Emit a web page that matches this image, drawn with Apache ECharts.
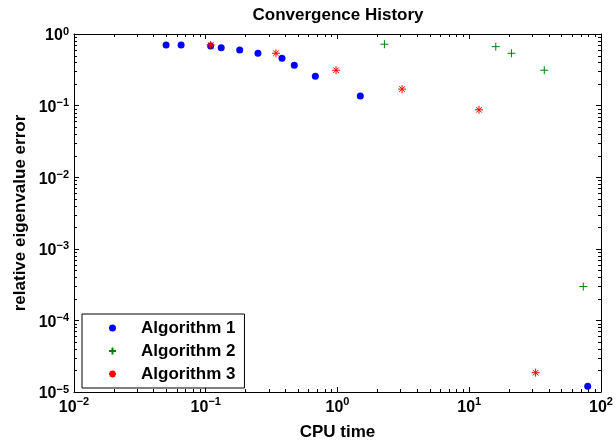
<!DOCTYPE html>
<html>
<head>
<meta charset="utf-8">
<script src="https://cdn.jsdelivr.net/npm/echarts@6/dist/echarts.min.js"></script>
<style>
html,body{margin:0;padding:0;background:#fff;}
#c{width:616px;height:446px;}
</style>
</head>
<body>
<div id="c"></div>
<script>
// ---- data ----
var seriesNames = ['Algorithm 1', 'Algorithm 2', 'Algorithm 3'];
var alg1X = [0.05, 0.065, 0.109, 0.131, 0.181, 0.249, 0.379, 0.47, 0.679, 1.49, 79.3];
var alg1Y = [0.70, 0.70, 0.68, 0.644, 0.598, 0.538, 0.459, 0.366, 0.258, 0.136, 1.2e-5];
var alg2X = [2.27, 15.9, 20.9, 37.1, 73.4];
var alg2Y = [0.72, 0.665, 0.538, 0.312, 2.97e-4];
var alg3X = [0.109, 0.341, 0.975, 3.09, 11.86, 31.9];
var alg3Y = [0.703, 0.538, 0.312, 0.170, 0.0874, 1.86e-5];
var xMin = 0.01, xMax = 100;
var yMin = 1e-5, yMax = 1;
var titleText = 'Convergence History';
var xName = 'CPU time';
var yName = 'relative eigenvalue error';

function zip(xs, ys) { return xs.map(function (x, i) { return [x, ys[i]]; }); }

var FONT = '"Liberation Sans", Arial, Helvetica, sans-serif';
var PLUS = 'path://M0,-1L0,1M-1,0L1,0';
var STAR = 'path://M0,-1L0,1M-1,0L1,0M-0.7,-0.7L0.7,0.7M-0.7,0.7L0.7,-0.7';

function expLabel(v) {
  var e = Math.round(Math.log10(v));
  var s = e < 0 ? '\u2212' + (-e) : '' + e;
  return '{b|10}{s|' + s + '}';
}
var xRich = {
  b: {fontSize: 16, fontWeight: 'bold', fontFamily: FONT, color: '#000', lineHeight: 16, padding: [8, 0, 0, 0]},
  s: {fontSize: 11, fontWeight: 'bold', fontFamily: FONT, color: '#000', lineHeight: 11, verticalAlign: 'top'}
};
var yRich = {
  b: {fontSize: 16, fontWeight: 'bold', fontFamily: FONT, color: '#000', lineHeight: 16, padding: [4, 0, 0, 0]},
  s: {fontSize: 11, fontWeight: 'bold', fontFamily: FONT, color: '#000', lineHeight: 11, verticalAlign: 'top'}
};

var axisLine = {show: true, onZero: false, lineStyle: {color: '#000', width: 1}};
var axisTick = {show: true, inside: true, length: 5, lineStyle: {color: '#000', width: 1}};

var chart = echarts.init(document.getElementById('c'), null, {renderer: 'canvas'});
var option = {
  animation: false,
  backgroundColor: '#fff',
  textStyle: {fontFamily: FONT},
  title: {
    text: titleText, left: 338, top: 7, textAlign: 'center', padding: 0,
    textStyle: {fontSize: 17, fontWeight: 'bold', color: '#000', fontFamily: FONT}
  },
  grid: {left: 74, right: 15, top: 34, bottom: 54, containLabel: false, outerBoundsMode: 'none'},
  legend: {
    data: seriesNames,
    orient: 'vertical',
    left: 82, top: 314,
    padding: [5, 9, 5, 26],
    itemGap: 5,
    itemWidth: 7, itemHeight: 7,
    backgroundColor: '#fff',
    borderColor: '#000', borderWidth: 1, borderRadius: 0,
    textStyle: {fontSize: 17, fontWeight: 'bold', color: '#000', fontFamily: FONT, lineHeight: 18, padding: [0, 0, 0, 20]}
  },
  xAxis: [{
    type: 'log', logBase: 10, min: xMin, max: xMax, position: 'bottom',
    name: xName, nameLocation: 'middle', nameGap: 32, nameMoveOverlap: false,
    nameTextStyle: {fontSize: 17, fontWeight: 'bold', color: '#000', fontFamily: FONT},
    axisLine: axisLine, axisTick: axisTick, splitLine: {show: false},
    axisLabel: {formatter: expLabel, rich: xRich, margin: 4}
  }, {
    type: 'log', logBase: 10, min: xMin, max: xMax, position: 'top',
    axisLine: axisLine, axisTick: axisTick, splitLine: {show: false},
    axisLabel: {show: false}
  }],
  yAxis: [{
    type: 'log', logBase: 10, min: yMin, max: yMax, position: 'left',
    name: yName, nameLocation: 'middle', nameGap: 45, nameMoveOverlap: false,
    nameTextStyle: {fontSize: 17, fontWeight: 'bold', color: '#000', fontFamily: FONT},
    axisLine: axisLine, axisTick: axisTick, splitLine: {show: false},
    axisLabel: {formatter: expLabel, rich: yRich, margin: 5}
  }, {
    type: 'log', logBase: 10, min: yMin, max: yMax, position: 'right',
    axisLine: axisLine, axisTick: axisTick, splitLine: {show: false},
    axisLabel: {show: false}
  }],
  series: [{
    name: seriesNames[0], type: 'scatter', data: zip(alg1X, alg1Y),
    symbol: 'circle', symbolSize: 7,
    itemStyle: {color: '#0000ff', opacity: 1}
  }, {
    name: seriesNames[1], type: 'scatter', data: zip(alg2X, alg2Y),
    symbol: PLUS, symbolSize: 8,
    itemStyle: {color: '#008000', borderColor: '#008000', borderWidth: 1, opacity: 1}
  }, {
    name: seriesNames[2], type: 'scatter', data: zip(alg3X, alg3Y),
    symbol: STAR, symbolSize: 8,
    itemStyle: {color: '#ff0000', borderColor: '#ff0000', borderWidth: 1, opacity: 1}
  }]
};
chart.setOption(option);

// minor ticks at 2..9 x 10^k, positioned through the axes' own scales
function minorValues(lo, hi) {
  var out = [];
  for (var k = Math.round(Math.log10(lo)); k < Math.round(Math.log10(hi)); k++) {
    for (var m = 2; m <= 9; m++) out.push(m * Math.pow(10, k));
  }
  return out;
}
var els = [];
var yb = chart.convertToPixel({yAxisIndex: 0}, yMin);
var yt = chart.convertToPixel({yAxisIndex: 0}, yMax);
var xl = chart.convertToPixel({xAxisIndex: 0}, xMin);
var xr = chart.convertToPixel({xAxisIndex: 0}, xMax);
var ML = 3;
var ls = {stroke: '#000', lineWidth: 1};
minorValues(xMin, xMax).forEach(function (v) {
  var px = Math.round(chart.convertToPixel({xAxisIndex: 0}, v)) + 0.5;
  els.push({type: 'line', silent: true, shape: {x1: px, y1: yb, x2: px, y2: yb - ML}, style: ls});
  els.push({type: 'line', silent: true, shape: {x1: px, y1: yt, x2: px, y2: yt + ML}, style: ls});
});
minorValues(yMin, yMax).forEach(function (v) {
  var py = Math.round(chart.convertToPixel({yAxisIndex: 0}, v)) + 0.5;
  els.push({type: 'line', silent: true, shape: {x1: xl, y1: py, x2: xl + ML, y2: py}, style: ls});
  els.push({type: 'line', silent: true, shape: {x1: xr, y1: py, x2: xr - ML, y2: py}, style: ls});
});
chart.setOption({graphic: {elements: els}});
</script>
</body>
</html>
